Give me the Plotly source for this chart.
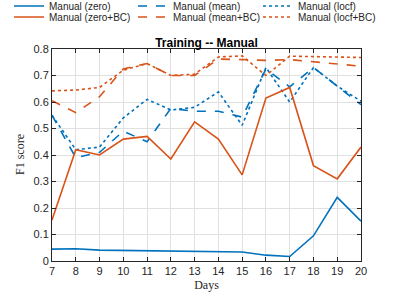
import plotly.graph_objects as go

days = list(range(7, 21))
zero = [0.045, 0.046, 0.041, 0.040, 0.039, 0.036, 0.036, 0.034, 0.034, 0.022, 0.017, 0.095, 0.24, 0.15]
zero_bc = [0.155, 0.42, 0.40, 0.46, 0.47, 0.385, 0.525, 0.46, 0.325, 0.615, 0.655, 0.36, 0.31, 0.43]
mean = [0.55, 0.39, 0.41, 0.49, 0.45, 0.576, 0.565, 0.565, 0.543, 0.725, 0.657, 0.73, 0.66, 0.59]
mean_bc = [0.605, 0.56, 0.62, 0.725, 0.745, 0.70, 0.70, 0.762, 0.76, 0.757, 0.76, 0.752, 0.745, 0.735]
locf = [0.55, 0.42, 0.43, 0.54, 0.61, 0.57, 0.58, 0.638, 0.512, 0.73, 0.60, 0.73, 0.66, 0.603]
locf_bc = [0.642, 0.645, 0.655, 0.72, 0.745, 0.70, 0.705, 0.77, 0.774, 0.70, 0.773, 0.772, 0.77, 0.768]

names = ["Manual (zero)", "Manual (mean)", "Manual (locf)",
         "Manual (zero+BC)", "Manual (mean+BC)", "Manual (locf+BC)"]
series = [zero, mean, locf, zero_bc, mean_bc, locf_bc]
BLUE = "#0072BD"
ORANGE = "#D95319"
colors = [BLUE, BLUE, BLUE, ORANGE, ORANGE, ORANGE]
dashes = ["solid", "dash", "dot", "solid", "dash", "dot"]
legend_ids = ["legend", "legend2", "legend3", "legend4", "legend5", "legend6"]
# legend grid placement (pixels in the 399x297 page): column x, row y
legend_x_px = [9, 133, 258, 9, 133, 258]
legend_y_px = [6, 6, 6, 17, 17, 17]

W, H = 399, 297

fig = go.Figure()
for n, s, c, d, lg in zip(names, series, colors, dashes, legend_ids):
    fig.add_trace(go.Scatter(x=days, y=s, name=n, mode="lines", legend=lg,
                             line=dict(color=c, width=1.6, dash=d)))

axis_common = dict(showline=True, mirror="ticks", linecolor="#262626", linewidth=1,
                   ticks="inside", ticklen=4, tickcolor="#262626",
                   showgrid=True, gridcolor="#E0E0E0", gridwidth=1, zeroline=False,
                   tickfont=dict(family="Liberation Sans, Arial", size=11, color="#262626"))

legend_layouts = {}
for lg, lx, ly in zip(legend_ids, legend_x_px, legend_y_px):
    legend_layouts[lg] = dict(orientation="h", xref="container", yref="container",
                              x=lx / W, xanchor="left", y=1 - ly / H, yanchor="middle",
                              font=dict(family="Liberation Sans, Arial", size=10, color="#262626"),
                              bgcolor="rgba(0,0,0,0)", itemwidth=30)

fig.update_layout(
    width=W, height=H,
    margin=dict(l=52, r=38, t=49, b=36, autoexpand=False),
    paper_bgcolor="white", plot_bgcolor="white",
    title=dict(text="<b>Training -- Manual</b>", x=0.5, xanchor="center",
               xref="paper", y=1.0, yref="paper", yanchor="bottom", pad=dict(b=2),
               font=dict(family="Liberation Sans, Arial", size=12, color="#000")),
    xaxis=dict(range=[7, 20], tickvals=days, ticktext=[str(d) for d in days],
               title=dict(text="Days", standoff=4,
                          font=dict(family="Liberation Serif, DejaVu Serif", size=12, color="#262626")),
               **axis_common),
    yaxis=dict(range=[0, 0.8], tickvals=[0, 0.1, 0.2, 0.3, 0.4, 0.5, 0.6, 0.7, 0.8],
               ticktext=["0", "0.1", "0.2", "0.3", "0.4", "0.5", "0.6", "0.7", "0.8"],
               **axis_common),
    annotations=[dict(text="F1 score", textangle=-90, xref="paper", yref="paper",
                      x=(20 - 52) / 309, y=0.5, xanchor="center", yanchor="middle",
                      showarrow=False,
                      font=dict(family="Liberation Serif, DejaVu Serif", size=12, color="#262626"))],
    showlegend=True,
    **legend_layouts,
)

fig.write_html("out.html", config={"displayModeBar": False},
               post_script="document.body.style.margin='0';")
